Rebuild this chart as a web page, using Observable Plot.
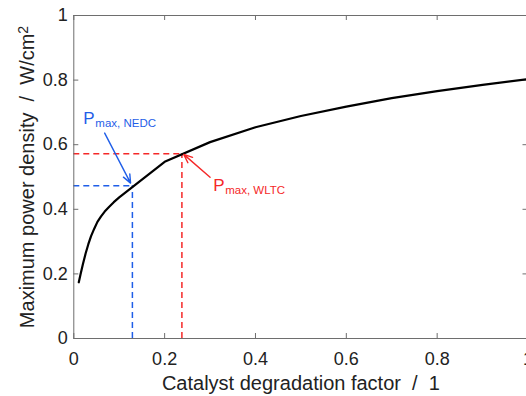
<!DOCTYPE html>
<html><head><meta charset="utf-8">
<script src="https://cdn.jsdelivr.net/npm/d3@7"></script>
<script src="https://cdn.jsdelivr.net/npm/@observablehq/plot@0.6"></script>
<style>
html,body{margin:0;padding:0;background:#fff;overflow:hidden}
#chart svg{overflow:hidden;display:block}
</style>
</head><body><div id="chart"></div>
<script>
// Curve data
const degradation = [0.011, 0.015, 0.02, 0.026, 0.032, 0.038, 0.045, 0.052, 0.06, 0.068, 0.078, 0.088, 0.1, 0.2, 0.3, 0.4, 0.5, 0.6, 0.7, 0.8, 0.9, 1.0];
const powerDensity = [0.174, 0.2, 0.23, 0.263, 0.292, 0.317, 0.34, 0.361, 0.378, 0.393, 0.408, 0.422, 0.437, 0.547, 0.608, 0.654, 0.689, 0.718, 0.744, 0.766, 0.785, 0.803];
// Axis ticks
const xTicks = [0, 0.2, 0.4, 0.6, 0.8, 1];
const yTicks = [0, 0.2, 0.4, 0.6, 0.8, 1];
const xTickLabels = ["0", "0.2", "0.4", "0.6", "0.8", "1"];
const yTickLabels = ["0", "0.2", "0.4", "0.6", "0.8", "1"];
// Annotations
const cycleNames = ["max, NEDC", "max, WLTC"];
const cycleX = [0.129, 0.238];
const cycleY = [0.473, 0.572];
const cycleColors = ["#1f5ee8", "#f52828"];
const labelX = [0.021, 0.307];
const labelY = [0.681, 0.474];
const arrowX1 = [0.068, 0.30];
const arrowY1 = [0.636, 0.499];
const arrowX2 = [0.125, 0.242];
const arrowY2 = [0.481, 0.570];

const curve = degradation.map((x, i) => ({x, y: powerDensity[i]}));
const cycles = cycleNames.map((name, i) => ({
  name, x: cycleX[i], y: cycleY[i], color: cycleColors[i],
  lx: labelX[i], ly: labelY[i],
  ax1: arrowX1[i], ay1: arrowY1[i], ax2: arrowX2[i], ay2: arrowY2[i]
}));

const W = 526, H = 396;
const mTop = 15, mBottom = 58, mLeft = 73.3, mRight = -1.5;
const innerH = H - mTop - mBottom;
const innerW = W - mLeft - mRight;
const axisColor = "#6e6e6e";
const textColor = "#222";
const font = "Liberation Sans, Arial, Helvetica, sans-serif";

const chart = Plot.plot({
  width: W, height: H,
  marginTop: mTop, marginBottom: mBottom, marginLeft: mLeft, marginRight: mRight,
  style: {fontFamily: font, background: "#fff", color: textColor, overflow: "hidden"},
  x: {domain: [0, 1]},
  y: {domain: [0, 1]},
  marks: [
    Plot.axisX(xTicks, {anchor: "bottom", tickSize: 0, tickPadding: 14, fontSize: 18, fill: textColor,
      tickFormat: (d) => xTickLabels[xTicks.indexOf(d)], label: null}),
    Plot.axisY(yTicks, {anchor: "left", tickSize: 0, tickPadding: 6, fontSize: 18, fill: textColor,
      tickFormat: (d) => yTickLabels[yTicks.indexOf(d)], label: null}),
    Plot.ruleX(xTicks, {x: d => d, stroke: axisColor, insetTop: innerH - 5}),
    Plot.ruleX(xTicks, {x: d => d, stroke: axisColor, insetBottom: innerH - 5}),
    Plot.ruleY(yTicks, {y: d => d, stroke: axisColor, insetRight: innerW - 5}),
    Plot.ruleY(yTicks, {y: d => d, stroke: axisColor, insetLeft: innerW - 5}),
    Plot.ruleY(cycles, {y: "y", x1: 0, x2: "x", stroke: "color", strokeWidth: 1.5, strokeDasharray: "6,4"}),
    Plot.ruleX(cycles, {x: "x", y1: 0, y2: "y", stroke: "color", strokeWidth: 1.5, strokeDasharray: "6,4"}),
    Plot.line(curve, {x: "x", y: "y", stroke: "#000", strokeWidth: 2.2, strokeLinejoin: "round"}),
    Plot.arrow(cycles, {x1: "ax1", y1: "ay1", x2: "ax2", y2: "ay2", stroke: "color", strokeWidth: 1.4, headLength: 10, headAngle: 45}),
    Plot.text(cycles, {x: "lx", y: "ly", text: () => "P", fill: "color", fontSize: 17, textAnchor: "start"}),
    Plot.text(cycles, {x: "lx", y: "ly", text: "name", fill: "color", fontSize: 11.5, textAnchor: "start", dx: 12, dy: 4.6}),
    Plot.frame({stroke: axisColor}),
    Plot.text(["Catalyst degradation factor\u00a0\u00a0/\u00a0\u00a01"], {frameAnchor: "bottom", textAnchor: "middle", lineAnchor: "middle", dy: 45, fontSize: 20, fill: textColor}),
    Plot.text(["Maximum power density\u00a0\u00a0/\u00a0\u00a0W/cm"], {frameAnchor: "left", textAnchor: "middle", lineAnchor: "middle", rotate: -90, dx: -46, fontSize: 20, fill: textColor})
  ]
});
d3.select(chart).selectAll("text").filter(function() { return this.textContent.endsWith("W/cm"); })
  .append("tspan").attr("dy", "-0.45em").attr("font-size", 14).text("2");
document.getElementById("chart").appendChild(chart);
</script>
</body></html>
